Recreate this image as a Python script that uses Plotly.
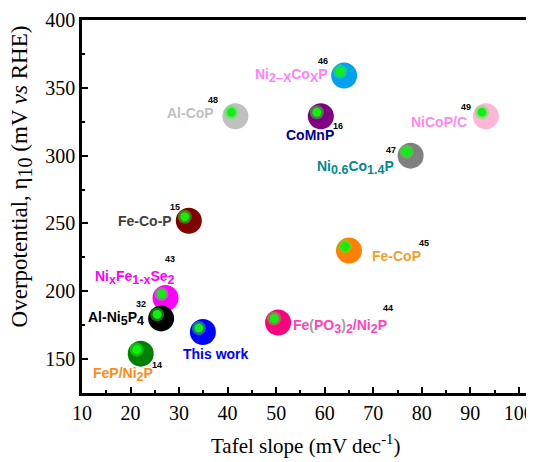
import plotly.graph_objects as go

# ---------------- data ----------------
labels = [
    "Ni<sub>2–X</sub>Co<sub>X</sub>P", "Al-CoP", "CoMnP", "NiCoP/C",
    "Ni<sub>0.6</sub>Co<sub>1.4</sub>P", "Fe-Co-P", "Fe-CoP",
    "Ni<sub>x</sub>Fe<sub>1-x</sub>Se<sub>2</sub>", "Al-Ni<sub>5</sub>P<sub>4</sub>",
    "Fe<span style='color:#a0a0a0'>(</span>PO<sub>3</sub><span style='color:#a0a0a0'>)</span><sub>2</sub>/Ni<sub>2</sub>P",
    "This work", "FeP/Ni<sub>2</sub>P",
]
tafel = [64.0, 41.6, 59.2, 93.2, 77.7, 32.0, 65.0, 27.2, 26.3, 50.4, 34.9, 22.1]
eta10 = [359, 329, 329, 329, 300, 252, 230, 195, 180, 177, 170, 154]
refs = ["46", "48", "16", "49", "47", "15", "45", "43", "32", "44", "", "14"]

# ---------------- styles ----------------
dot_colors = ["#00a2f0", "#c0c0c0", "#800080", "#ffb6d9", "#808080", "#800000",
              "#ff8000", "#ff00ff", "#000000", "#ff0080", "#0000ff", "#008000"]
label_colors = ["#ff80ff", "#c0c0c0", "#000090", "#ff88ee", "#008b8b", "#404040",
                "#f0a030", "#ff00ff", "#000000", "#ff44bb", "#0000ff", "#ff8c1a"]
# (xanchor, xshift, yshift) for labels, pixels
label_pos = [("right", -14, 0), ("right", -19, 3), ("center", -11, -19), ("right", -17, -6),
             ("right", -15, -12), ("right", -15, 0), ("left", 21, -5), ("center", -30, 21),
             ("right", -15, 0), ("left", 13, -4), ("center", 13, -22), ("center", -18, -21)]
ref_pos = [(-21, 15), (-22, 16), (17, -10), (-20, 9), (-20, 6), (-14, 14), (75, 8),
           (5, 39), (-20, 14), (110, 14), (0, 0), (16, -11)]


def big_subs(s):
    return s.replace("<sub>", "<sub><span style='font-size:12.5px'>").replace("</sub>", "</span></sub>")


W, H = 526, 454          # page body has an 8px margin
ML, MR, MT, MB = 74, 0, 12, 69
XR = [10, 102.5]
YR = [125, 400]
px_x = (W - ML - MR) / (XR[1] - XR[0])
px_y = (H - MT - MB) / (YR[1] - YR[0])

fig = go.Figure()
fig.add_trace(go.Scatter(
    x=tafel, y=eta10, mode="markers",
    marker=dict(size=26, color=dot_colors, line=dict(width=0)),
    hoverinfo="skip", showlegend=False))
# green highlight (offset up-left a few pixels)
hx = [v - 4 / px_x for v in tafel]
hy = [v + 4 / px_y for v in eta10]
fig.add_trace(go.Scatter(
    x=hx, y=hy, mode="markers",
    marker=dict(size=14, color="rgba(40,255,40,0.45)", line=dict(width=0)),
    hoverinfo="skip", showlegend=False))
fig.add_trace(go.Scatter(
    x=hx, y=hy, mode="markers",
    marker=dict(size=9, color="#10f010", line=dict(width=0)),
    hoverinfo="skip", showlegend=False))

annotations = []
for i in range(len(labels)):
    xa, xs, ys = label_pos[i]
    annotations.append(dict(
        x=tafel[i], y=eta10[i], xref="x", yref="y", text="<b>" + big_subs(labels[i]) + "</b>",
        showarrow=False, xanchor=xa, yanchor="middle", xshift=xs, yshift=ys,
        font=dict(family="Liberation Sans, Arial", size=14, color=label_colors[i])))
    if refs[i]:
        rx, ry = ref_pos[i]
        annotations.append(dict(
            x=tafel[i], y=eta10[i], xref="x", yref="y", text="<b>" + refs[i] + "</b>",
            showarrow=False, xanchor="center", yanchor="middle", xshift=rx, yshift=ry,
            font=dict(family="Liberation Sans, Arial", size=9, color="#000000")))

PW = W - ML - MR
PH = H - MT - MB
annotations.append(dict(
    x=(299 - ML) / PW, y=-(436 - MT - PH) / PH, xref="paper", yref="paper",
    text="Tafel slope (mV dec<sup>-1</sup>)", showarrow=False,
    xanchor="center", yanchor="middle",
    font=dict(family="Liberation Serif, Times New Roman", size=21, color="black")))
annotations.append(dict(
    x=(13 - ML) / PW, y=1 - (168 - MT) / PH, xref="paper", yref="paper",
    text="Overpotential, η<sub><span style='font-size:20px'>10</span></sub> (mV <i>vs</i> RHE)",
    showarrow=False, textangle=-90, xanchor="center", yanchor="middle",
    font=dict(family="Liberation Serif, Times New Roman", size=23, color="black")))

axis_common = dict(
    showline=True, linecolor="black", linewidth=2.5, ticks="inside", ticklen=6,
    tickwidth=2, tickcolor="black", showgrid=False, zeroline=False,
    tickfont=dict(family="Liberation Serif, Times New Roman", size=20, color="black"),
    ticklabeloverflow="allow",
)
fig.update_layout(
    width=W, height=H, margin=dict(l=ML, r=MR, t=MT, b=MB),
    plot_bgcolor="white", paper_bgcolor="white",
    xaxis=dict(range=XR, dtick=10, tick0=10, mirror=True,
               minor=dict(ticks="inside", ticklen=3, tickwidth=2, dtick=5, tickcolor="black"),
               **axis_common),
    yaxis=dict(range=YR, dtick=50, tick0=150,
               minor=dict(ticks="inside", ticklen=3, tickwidth=2, dtick=25, tickcolor="black"),
               **axis_common),
    annotations=annotations,
)
fig.write_html("out.html")
